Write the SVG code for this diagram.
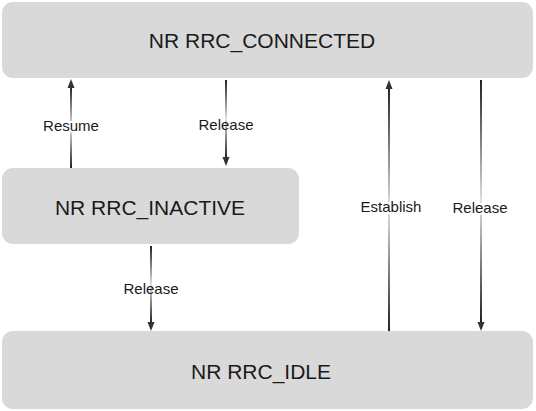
<svg xmlns="http://www.w3.org/2000/svg" width="536" height="411" viewBox="0 0 536 411">
<style>
.node{fill:#d9d9d9;}
.big{font-family:"Liberation Sans",Arial,sans-serif;font-size:21px;fill:#1a1a1a;text-anchor:middle;}
.lbl{font-family:"Liberation Sans",Arial,sans-serif;font-size:15px;fill:#1a1a1a;text-anchor:middle;}
.head{fill:#333;}
</style>
<defs>
<linearGradient id="g" x1="0" y1="0" x2="0" y2="1">
<stop offset="0" stop-color="#222"/>
<stop offset="0.5" stop-color="#e0e0e0"/>
<stop offset="1" stop-color="#222"/>
</linearGradient>
</defs>
<rect width="536" height="411" fill="#fff"/>
<g id="connected"><rect class="node" x="2" y="2" width="531" height="76" rx="11"/><text class="big" x="262" y="48">NR RRC_CONNECTED</text></g>
<g id="inactive"><rect class="node" x="2" y="168" width="297" height="76" rx="11"/><text class="big" x="150" y="215">NR RRC_INACTIVE</text></g>
<g id="idle"><rect class="node" x="2" y="331" width="531" height="78" rx="11"/><text class="big" x="261" y="379">NR RRC_IDLE</text></g>
<g id="connectors">
<rect x="70" y="86" width="2" height="82" fill="url(#g)"/><polygon class="head" points="71,79 67.5,88 74.5,88"/>
<rect x="225" y="80" width="2" height="78" fill="url(#g)"/><polygon class="head" points="226,166 222.5,157 229.5,157"/>
<rect x="388" y="87" width="2" height="244" fill="url(#g)"/><polygon class="head" points="389,80 385.5,89 392.5,89"/>
<rect x="480" y="80" width="2" height="243" fill="url(#g)"/><polygon class="head" points="481,331 477.5,322 484.5,322"/>
<rect x="150" y="246" width="2" height="77" fill="url(#g)"/><polygon class="head" points="151,331 147.5,322 154.5,322"/>
<text class="lbl" x="71" y="131" style="paint-order:stroke" stroke="#fff" stroke-width="4">Resume</text>
<text class="lbl" x="226" y="130">Release</text>
<text class="lbl" x="391" y="212" style="paint-order:stroke" stroke="#fff" stroke-width="4">Establish</text>
<text class="lbl" x="480" y="213" style="paint-order:stroke" stroke="#fff" stroke-width="4">Release</text>
<text class="lbl" x="151" y="294">Release</text>
</g>
</svg>
